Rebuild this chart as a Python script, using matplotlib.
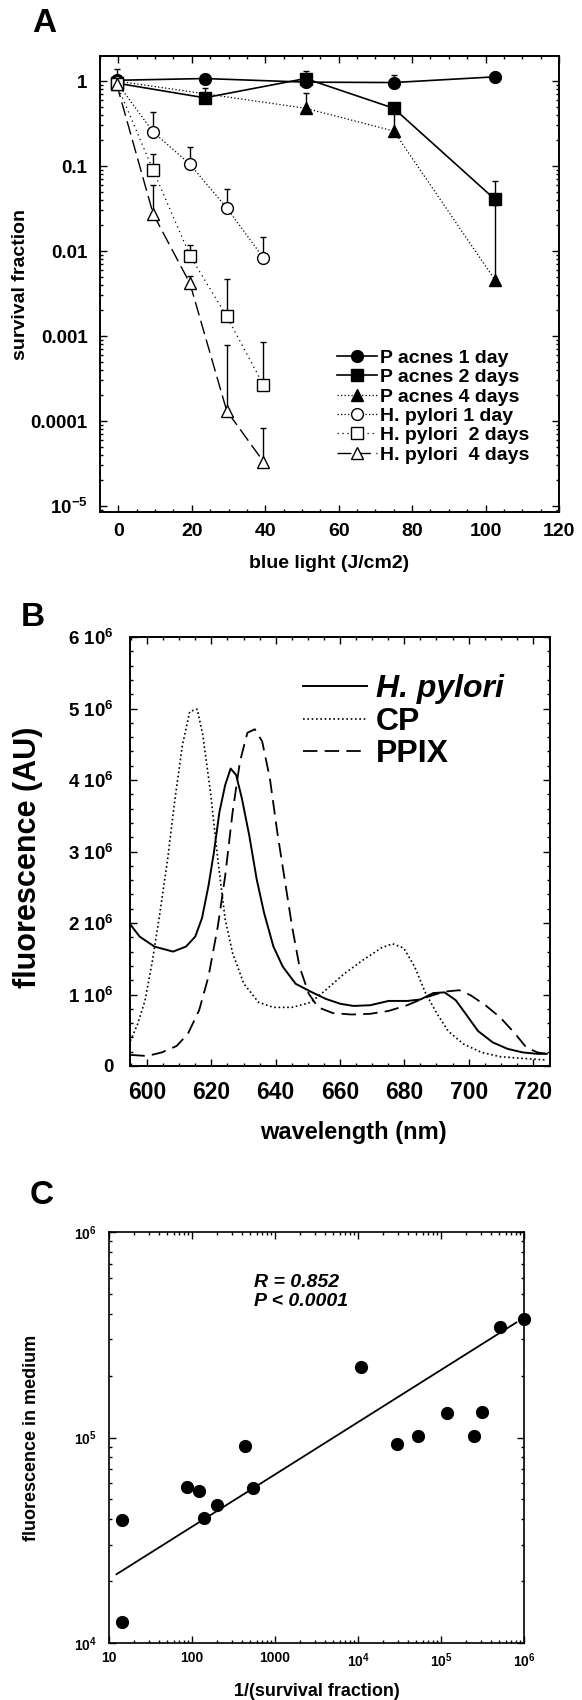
import numpy as np
import matplotlib
matplotlib.use("Agg")
import matplotlib.pyplot as plt
from matplotlib.ticker import MultipleLocator, NullFormatter

plt.rcParams['font.family'] = ['Liberation Sans', 'DejaVu Sans']
plt.rcParams['font.weight'] = 'bold'
plt.rcParams['mathtext.fontset'] = 'custom'
plt.rcParams['mathtext.rm'] = 'Liberation Sans:bold'
plt.rcParams['mathtext.it'] = 'Liberation Sans:italic:bold'
plt.rcParams['mathtext.bf'] = 'Liberation Sans:bold'
plt.rcParams['mathtext.default'] = 'rm'

# === PANEL A: survival vs blue light ===
pa_x = [-0.5, 23.5, 51, 75, 102.5]
pa_4d_x = [-0.5, 51, 75, 102.5]
hp_x = [-0.5, 9.5, 19.5, 29.5, 39.5]

pa_1d = [1.02, 1.07, 0.97, 0.96, 1.12]
pa_1d_top = [1.4, None, 1.32, 1.17, None]
pa_2d = [0.945, 0.635, 1.07, 0.478, 0.0407]
pa_2d_top = [None, 0.82, None, None, 0.0666]
pa_4d = [1.0, 0.478, 0.258, 0.0046]
pa_4d_top = [None, 0.73, 0.45, 0.035]
hp_1d = [0.97, 0.251, 0.105, 0.0322, 0.0083]
hp_1d_top = [None, 0.427, 0.166, 0.0543, 0.0147]
hp_2d = [0.93, 0.0887, 0.0088, 0.00171, 0.000265]
hp_2d_top = [None, 0.137, 0.0119, 0.00465, 0.00085]
hp_4d = [0.93, 0.0271, 0.00416, 0.000132, 3.33e-5]
hp_4d_top = [None, 0.0595, 0.00511, 0.00078, 8.23e-5]

a_yticks = [1e-5, 1e-4, 1e-3, 1e-2, 1e-1, 1]
a_yticklabels = ["10$^{-5}$", "0.0001", "0.001", "0.01", "0.1", "1"]

# === PANEL B: fluorescence spectra (x 10^6) ===
hp_nm = [594.8, 597.7, 602.3, 608.1, 612.1, 615.0, 617.1, 619.1, 620.8, 622.5,
         624.3, 626.0, 627.7, 629.5, 631.8, 634.1, 636.4, 639.3, 642.2, 646.2,
         650.9, 655.5, 660.1, 664.2, 669.4, 675.1, 680.9, 685.0, 689.0, 692.5,
         696.0, 699.4, 702.9, 707.5, 712.1, 716.8, 721.4, 724.3]
hp_fl = [1.98, 1.81, 1.67, 1.60, 1.67, 1.81, 2.07, 2.52, 2.99, 3.55,
         3.93, 4.16, 4.07, 3.74, 3.22, 2.61, 2.14, 1.67, 1.39, 1.15,
         1.04, 0.94, 0.87, 0.84, 0.85, 0.91, 0.91, 0.93, 1.02, 1.03,
         0.92, 0.71, 0.49, 0.33, 0.24, 0.19, 0.17, 0.17]
cp_nm = [594.8, 597.1, 599.4, 601.7, 604.0, 606.4, 608.7, 611.0, 613.3, 615.6,
         617.3, 619.7, 622.0, 624.3, 626.6, 630.1, 634.7, 639.3, 645.1, 650.9,
         655.5, 661.3, 667.1, 672.8, 676.3, 679.8, 683.2, 686.7, 690.2, 693.6,
         698.3, 704.0, 709.8, 715.6, 723.7]
cp_fl = [0.35, 0.59, 0.92, 1.48, 2.14, 2.89, 3.74, 4.49, 4.96, 4.99,
         4.64, 3.84, 2.89, 2.05, 1.58, 1.15, 0.89, 0.82, 0.82, 0.89,
         1.06, 1.29, 1.48, 1.65, 1.71, 1.65, 1.39, 1.01, 0.73, 0.49,
         0.31, 0.19, 0.13, 0.11, 0.085]
ppix_nm = [594.8, 600.0, 604.6, 609.2, 612.7, 616.2, 619.1, 622.0, 624.3, 626.6,
           628.9, 631.2, 633.5, 635.8, 638.2, 640.5, 642.8, 645.1, 647.4, 650.3,
           653.2, 657.8, 663.6, 669.4, 675.1, 680.9, 686.7, 692.5, 697.1, 700.6,
           705.2, 709.8, 714.5, 717.9, 721.4, 724.3]
ppix_fl = [0.155, 0.14, 0.19, 0.28, 0.45, 0.78, 1.25, 1.95, 2.66, 3.55,
           4.26, 4.66, 4.71, 4.54, 4.02, 3.27, 2.61, 1.95, 1.39, 1.01,
           0.82, 0.74, 0.72, 0.73, 0.77, 0.85, 0.96, 1.04, 1.06, 0.99,
           0.85, 0.68, 0.45, 0.26, 0.19, 0.17]

b_xticks = [600, 620, 640, 660, 680, 700, 720]
b_yticks = [0, 1e6, 2e6, 3e6, 4e6, 5e6, 6e6]
b_yticklabels = ["0", "1 10$^{6}$", "2 10$^{6}$", "3 10$^{6}$",
                 "4 10$^{6}$", "5 10$^{6}$", "6 10$^{6}$"]

# === PANEL C: fluorescence vs 1/survival ===
inv_surv = [14.4, 14.4, 87.5, 123, 139, 200, 433, 550, 1.1e4, 2.99e4,
            5.27e4, 1.18e5, 2.48e5, 3.11e5, 5.1e5, 1.0e6]
fl_medium = [3.96e4, 1.26e4, 5.75e4, 5.5e4, 4.05e4, 4.68e4, 9.1e4, 5.65e4, 2.21e5, 9.27e4,
             1.02e5, 1.31e5, 1.02e5, 1.33e5, 3.44e5, 3.79e5]
fit_x = [12.3, 8.1e5]
fit_y = [2.16e4, 3.63e5]

c_xticks = [10, 100, 1000, 1e4, 1e5, 1e6]
c_xticklabels = ["10", "100", "1000", "10$^{4}$", "10$^{5}$", "10$^{6}$"]
c_yticks = [1e4, 1e5, 1e6]
c_yticklabels = ["10$^{4}$", "10$^{5}$", "10$^{6}$"]


def style_axes(ax, lw):
    for s in ax.spines.values():
        s.set_linewidth(lw)
    ax.tick_params(which='both', direction='in', top=True, right=True, width=1.0)
    ax.tick_params(which='major', length=5)
    ax.tick_params(which='minor', length=2.5)


def upper_err(ax, x, y, top):
    # only the upper half of each error bar is drawn
    xs, ys, up = [], [], []
    for xi, yi, ti in zip(x, y, top):
        if ti is not None:
            xs.append(xi)
            ys.append(yi)
            up.append(ti - yi)
    ax.errorbar(xs, ys, yerr=[np.zeros(len(up)), up], fmt='none',
                ecolor='black', elinewidth=1.0, capsize=2.2, capthick=1.0, zorder=1)


fig = plt.figure(figsize=(5.82, 17), dpi=100)

# ---------------- A ----------------
axA = fig.add_axes([100 / 582, 1 - 512 / 1700, 459 / 582, 456 / 1700])
style_axes(axA, 1.4)
axA.set_yscale('log')

upper_err(axA, pa_x, pa_1d, pa_1d_top)
upper_err(axA, pa_x, pa_2d, pa_2d_top)
upper_err(axA, pa_4d_x, pa_4d, pa_4d_top)
upper_err(axA, hp_x, hp_1d, hp_1d_top)
upper_err(axA, hp_x, hp_2d, hp_2d_top)
upper_err(axA, hp_x, hp_4d, hp_4d_top)

ms = 8.5
axA.plot(pa_x, pa_1d, color='black', lw=1.2, marker='o', ms=ms, label="P acnes 1 day", zorder=3)
axA.plot(pa_x, pa_2d, color='black', lw=1.2, marker='s', ms=ms, label="P acnes 2 days", zorder=3)
axA.plot(pa_4d_x, pa_4d, color='black', lw=0.9, ls=(0, (1, 1.8)), marker='^', ms=ms,
         label="P acnes 4 days", zorder=3)
axA.plot(hp_x, hp_1d, color='black', lw=0.9, ls=(0, (1, 1.8)), marker='o', ms=ms,
         mfc='white', mec='black', mew=1.0, label="H. pylori 1 day", zorder=3)
axA.plot(hp_x, hp_2d, color='black', lw=0.9, ls=(0, (1, 3)), marker='s', ms=ms,
         mfc='white', mec='black', mew=1.0, label="H. pylori  2 days", zorder=3)
axA.plot(hp_x, hp_4d, color='black', lw=1.0, ls=(0, (10, 4)), marker='^', ms=ms,
         mfc='white', mec='black', mew=1.0, label="H. pylori  4 days", zorder=3)

axA.set_xlim(-5, 120)
axA.set_ylim(8.5e-6, 1.97)
axA.xaxis.set_major_locator(MultipleLocator(20))
axA.xaxis.set_minor_locator(MultipleLocator(5))
axA.set_yticks(a_yticks, a_yticklabels)
axA.yaxis.set_minor_formatter(NullFormatter())
axA.tick_params(axis='y', which='major', labelsize=13.5, pad=9)
axA.tick_params(axis='x', which='major', labelsize=14, pad=8)

axA.set_xlabel("blue light (J/cm2)", fontsize=14, fontweight='bold', va='center')
axA.xaxis.set_label_coords(0.5, -0.112)
axA.set_ylabel("survival fraction", fontsize=14, fontweight='bold', va='center')
axA.yaxis.set_label_coords(-0.174, 0.5)

legA = axA.legend(loc='upper left', bbox_to_anchor=(0.516, 0.357), frameon=False,
                  borderpad=0, borderaxespad=0, labelspacing=0.09, handlelength=2.06,
                  handletextpad=0.15, fontsize=14, numpoints=1)

fig.text(44 / 582, 1 - 24 / 1700, "A", fontsize=24, fontweight='bold', ha='center', va='center')

# ---------------- B ----------------
axB = fig.add_axes([130 / 582, 1 - 1066 / 1700, 420 / 582, 429 / 1700])
style_axes(axB, 1.4)

axB.plot(hp_nm, np.array(hp_fl) * 1e6, color='black', lw=1.4, label="H. pylori")
axB.plot(cp_nm, np.array(cp_fl) * 1e6, color='black', lw=1.2, ls=(0, (1, 1.6)), label="CP")
axB.plot(ppix_nm, np.array(ppix_fl) * 1e6, color='black', lw=1.3, ls=(0, (8, 4)), label="PPIX")

axB.set_xlim(594.7, 725.3)
axB.set_ylim(0, 6e6)
axB.set_xticks(b_xticks)
axB.xaxis.set_minor_locator(MultipleLocator(5))
axB.set_yticks(b_yticks, b_yticklabels)
axB.yaxis.set_minor_locator(MultipleLocator(2e5))
axB.tick_params(axis='y', which='major', labelsize=13.5, pad=12)
axB.tick_params(axis='x', which='major', labelsize=16.5, pad=11)

axB.set_xlabel("wavelength (nm)", fontsize=17, fontweight='bold', va='center')
axB.xaxis.set_label_coords(0.532, -0.154)
axB.set_ylabel("fluorescence (AU)", fontsize=22, fontweight='bold', va='center')
axB.yaxis.set_label_coords(-0.244, 0.487)

legB = axB.legend(loc='upper left', bbox_to_anchor=(0.412, 0.913), frameon=False,
                  borderpad=0, borderaxespad=0, labelspacing=0.08, handlelength=2.0,
                  handletextpad=0.28, fontsize=23)
legB.get_texts()[0].set_style('italic')

fig.text(33 / 582, 1 - 618 / 1700, "B", fontsize=24, fontweight='bold', ha='center', va='center')

# ---------------- C ----------------
axC = fig.add_axes([109 / 582, 1 - 1643 / 1700, 415 / 582, 411 / 1700])
style_axes(axC, 1.2)
axC.set_xscale('log')
axC.set_yscale('log')

axC.plot(fit_x, fit_y, color='black', lw=1.3)
axC.plot(inv_surv, fl_medium, 'o', color='black', ms=8.5, clip_on=False, zorder=3)

axC.set_xlim(10, 1e6)
axC.set_ylim(1e4, 1e6)
axC.set_xticks(c_xticks, c_xticklabels)
axC.set_yticks(c_yticks, c_yticklabels)
axC.xaxis.set_minor_formatter(NullFormatter())
axC.yaxis.set_minor_formatter(NullFormatter())
axC.tick_params(axis='both', which='major', labelsize=10)
axC.tick_params(axis='y', which='major', pad=9)
axC.tick_params(axis='x', which='major', pad=6)

axC.set_xlabel("1/(survival fraction)", fontsize=13, fontweight='bold', va='center')
axC.xaxis.set_label_coords(0.5, -0.117)
axC.set_ylabel("fluorescence in medium", fontsize=13, fontweight='bold', va='center')
axC.yaxis.set_label_coords(-0.186, 0.5)

axC.text(0.349, 0.878, "R = 0.852", transform=axC.transAxes, fontsize=14,
         fontweight='bold', style='italic', va='center', ha='left')
axC.text(0.349, 0.832, "P < 0.0001", transform=axC.transAxes, fontsize=14,
         fontweight='bold', style='italic', va='center', ha='left')

fig.text(42 / 582, 1 - 1196 / 1700, "C", fontsize=24, fontweight='bold', ha='center', va='center')

fig.savefig("out.png", dpi=100)
plt.close(fig)
print("saved out.png")
